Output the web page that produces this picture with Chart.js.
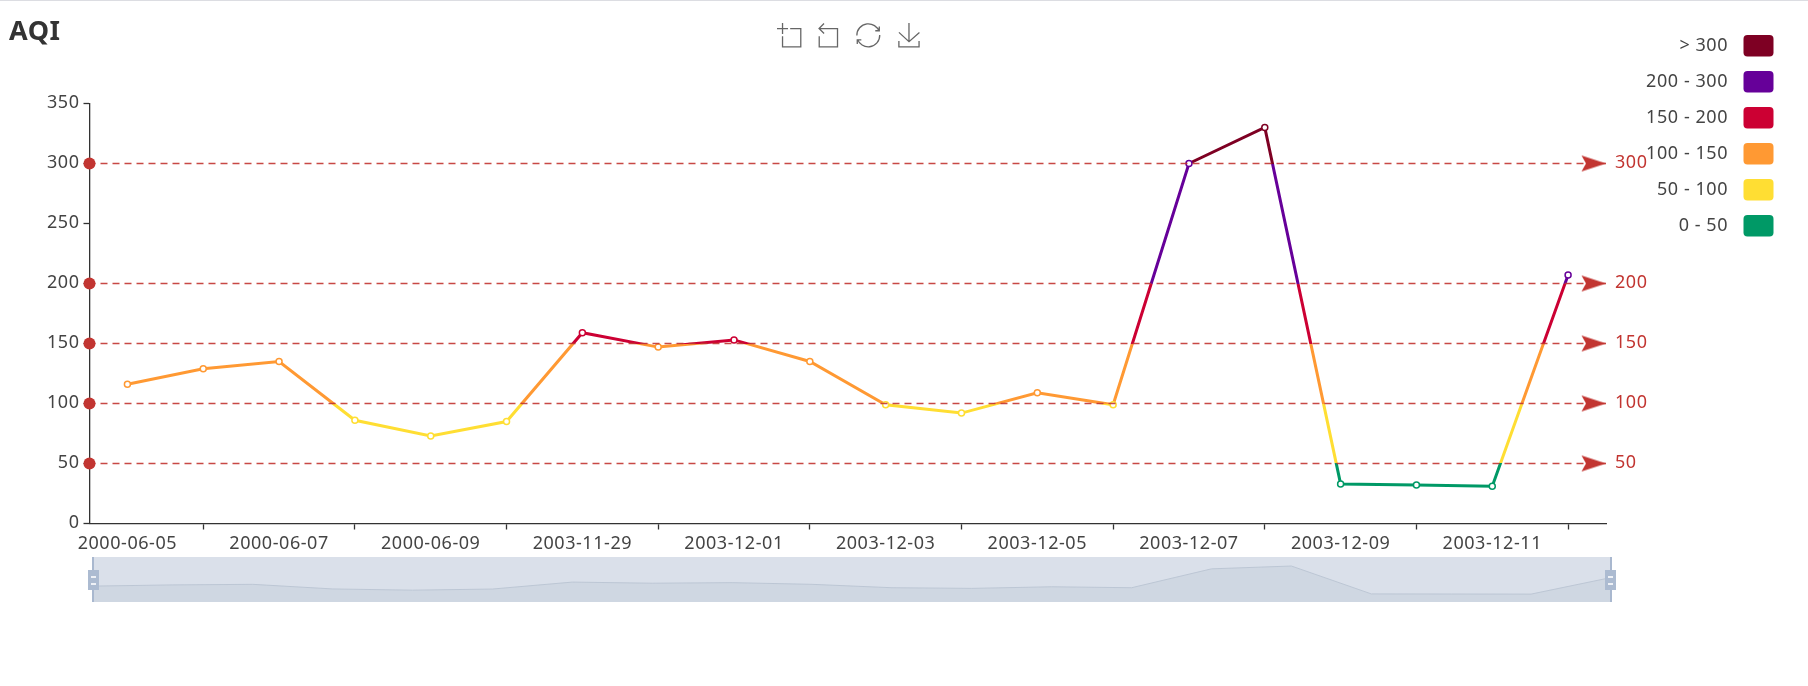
<!DOCTYPE html>
<html><head><meta charset="utf-8">
<style>
html,body{margin:0;padding:0;background:#fff;overflow:hidden}
#wrap{position:relative;width:1808px;height:686px}
#topline{position:absolute;left:0;top:0;width:1808px;height:1px;background:#dcdde2;z-index:5}
#main{position:absolute;left:0;top:0}
#sliderBox{position:absolute;left:93px;top:557px;width:1518px;height:45px;background:#dae0ea}
.hbar{position:absolute;top:557px;width:2px;height:45px;background:#a9b8cf;z-index:3}
.grip{position:absolute;top:570px;width:11px;height:20px;background:#acbbd1;z-index:3}
.grip i{position:absolute;left:3px;width:5px;height:2px;background:#eef1f6}
#tools{position:absolute;left:0;top:0;z-index:4}
</style></head><body>
<div id="wrap">
<div id="topline"></div>
<canvas id="main" width="1808" height="686"></canvas>
<div id="sliderBox"><canvas id="slider" width="1518" height="45"></canvas></div>
<div class="hbar" style="left:92px"></div><div class="hbar" style="left:1610px"></div>
<div class="grip" style="left:88px"><i style="top:6px"></i><i style="top:13px"></i></div>
<div class="grip" style="left:1605px"><i style="top:6px"></i><i style="top:13px"></i></div>
<svg id="tools" width="1808" height="60" fill="none" stroke="#666" stroke-width="1.3">
<g transform="translate(777,23) scale(0.41)"><path vector-effect="non-scaling-stroke" d="M0,13.5h26.9 M13.5,26.9V0 M32.1,13.5H58V58H13.5 V32.1"/></g>
<g transform="translate(815,23) scale(0.41)"><path vector-effect="non-scaling-stroke" d="M22,1.4L9.9,13.5l12.3,12.3 M10.3,13.5H54.9v44.6 H10.3v-26"/></g>
<g transform="translate(856,23) scale(0.41)"><path vector-effect="non-scaling-stroke" d="M3.8,33.4 M47,18.9h9.8V8.7 M56.3,20.1 C52.1,9,40.5,0.6,26.8,2.1C12.6,3.7,1.6,16.2,2.1,30.6 M13,41.1H3.1v10.2 M3.7,39.9c4.2,11.1,15.8,19.5,29.5,18 c14.2-1.6,25.2-14.1,24.7-28.5"/></g>
<g transform="translate(897,23) scale(0.41)"><path vector-effect="non-scaling-stroke" d="M4.7,22.9L29.3,45.5L54.7,23.4M4.6,43.6L4.6,58L53.8,58L53.8,43.6M29.2,45.1L29.2,0"/></g>
</svg>
</div>
<script src="https://cdn.jsdelivr.net/npm/chart.js@4"></script>
<script>
const categories = ["2000-06-05","2000-06-06","2000-06-07","2000-06-08","2000-06-09","2000-06-10","2003-11-29","2003-11-30","2003-12-01","2003-12-02","2003-12-03","2003-12-04","2003-12-05","2003-12-06","2003-12-07","2003-12-08","2003-12-09","2003-12-10","2003-12-11","2003-12-12"];
const aqiValues = [116,129,135,86,73,85,159,147,153,135,99,92,109,99,300,330,33,32,31,207];
const markValues = [50,100,150,200,300];
const pieceLabels = ["> 300","200 - 300","150 - 200","100 - 150","50 - 100","0 - 50"];
const pieceColors = ["#7e0023","#660099","#cc0033","#ff9933","#ffde33","#009966"];
const titleText = "AQI";

const FONT = "'Noto Sans', sans-serif";
const TEXT = "#444", RED = "#c23531";
const bandColors = pieceColors.slice().reverse();

function colorForValue(v){
  let i = 0;
  while(i < markValues.length && v > markValues[i]) i++;
  return bandColors[i];
}
function bandGradient(ctx){
  const chart = ctx.chart, y = chart.scales.y;
  if(!y || !chart.chartArea) return bandColors[0];
  const top = y.getPixelForValue(y.max), bot = y.getPixelForValue(y.min);
  const g = chart.ctx.createLinearGradient(0, bot, 0, top);
  let prev = 0;
  markValues.forEach((m,i)=>{
    const p = (m - y.min)/(y.max - y.min);
    g.addColorStop(prev, bandColors[i]); g.addColorStop(p, bandColors[i]);
    prev = p;
  });
  g.addColorStop(prev, bandColors[markValues.length]); g.addColorStop(1, bandColors[markValues.length]);
  return g;
}
function arrowCanvas(){
  const c = document.createElement('canvas'); c.width = 50; c.height = 18;
  const x = c.getContext('2d'); x.fillStyle = RED;
  x.beginPath(); x.moveTo(25,9); x.lineTo(0.5,1); x.lineTo(5,9); x.lineTo(0.5,17); x.closePath(); x.fill();
  return c;
}
const arrow = arrowCanvas();

const markDatasets = markValues.map(v=>({
  type:'line', xAxisID:'xLine', yAxisID:'y', order:-1, clip:false,
  data:[{x:0,y:v},{x:1,y:v}],
  borderColor:'rgba(194,53,49,0.9)', borderWidth:1.5, borderDash:[7,5], borderDashOffset:-11,
  pointStyle:['circle',arrow], pointRadius:[6,9], pointBorderWidth:0,
  pointBackgroundColor:RED, pointBorderColor:RED, pointHoverRadius:[6,9], tension:0
}));

const spacingPlugin = { id:'spacing', beforeDraw(chart){ chart.ctx.letterSpacing = '0.55px'; } };

const legendPlugin = {
  id:'pieceLegend',
  afterDraw(chart){
    const c = chart.ctx; c.save();
    c.font = "18px "+FONT; c.textAlign='right'; c.textBaseline='middle';
    pieceLabels.forEach((t,i)=>{
      const top = 35 + i*36;
      c.fillStyle = TEXT; c.fillText(t, 1728, top+11);
      c.fillStyle = pieceColors[i];
      c.beginPath(); c.roundRect(1743.5, top, 30, 21.5, 4); c.fill();
    });
    c.restore();
  }
};

new Chart(document.getElementById('main'), {
  data:{ labels:categories, datasets:[
    { type:'line', label:'AQI', xAxisID:'x', yAxisID:'y', order:1, data:aqiValues, tension:0,
      borderWidth:3, borderColor:bandGradient, pointRadius:3, pointBorderWidth:1.5,
      pointBackgroundColor:'#fff', pointBorderColor:aqiValues.map(colorForValue) },
    ...markDatasets
  ]},
  options:{
    responsive:false, animation:false, events:[],
    layout:{padding:{left:9,right:0,top:0,bottom:0}},
    plugins:{
      legend:{display:false}, tooltip:{enabled:false},
      title:{display:true, text:titleText, align:'start', color:"#333",
        font:{family:FONT, size:27, weight:'bold', lineHeight:1.2},
        padding:{top:16, bottom:55.1}}
    },
    scales:{
      x:{type:'category', position:'bottom', offset:true,
        afterFit(s){s.height=162.5},
        border:{color:'#333',width:1.3},
        grid:{drawOnChartArea:false, tickLength:6, tickWidth:1.3, offset:false,
          tickColor:c=>c.index%2===1?'#333':'rgba(0,0,0,0)'},
        ticks:{autoSkip:false,maxRotation:0,minRotation:0,color:TEXT,padding:4,
          font:{family:FONT,size:18},
          callback(v,i){return i%2===0?this.getLabelForValue(v):''}}
      },
      xLine:{type:'linear',display:false,min:0,max:1,position:'bottom'},
      y:{type:'linear',position:'left',min:0,max:350,
        afterFit(s){s.width=80.5},
        border:{color:'#333',width:1.3},
        grid:{drawOnChartArea:false,tickLength:6,tickWidth:1.3,tickColor:'#333'},
        ticks:{stepSize:50,color:TEXT,padding:4,labelOffset:-1,font:{family:FONT,size:18}}
      },
      yMark:{type:'linear',position:'right',min:0,max:350,
        afterFit(s){s.width=202},
        afterBuildTicks(s){s.ticks=markValues.map(v=>({value:v}))},
        border:{display:false},
        grid:{display:false,drawTicks:false},
        ticks:{color:RED,padding:9,labelOffset:-1,font:{family:FONT,size:18}}
      }
    }
  },
  plugins:[spacingPlugin, legendPlugin]
});

new Chart(document.getElementById('slider'), {
  type:'line',
  data:{labels:categories,datasets:[{data:aqiValues,tension:0,fill:'start',
    borderColor:'#bcc6d4',borderWidth:1,pointRadius:0,backgroundColor:'#cfd7e2'}]},
  options:{responsive:false,animation:false,events:[],
    layout:{padding:0},
    plugins:{legend:{display:false},tooltip:{enabled:false},title:{display:false}},
    scales:{x:{display:false},y:{display:false,min:-53,max:426}}
  }
});
</script>
</body></html>
